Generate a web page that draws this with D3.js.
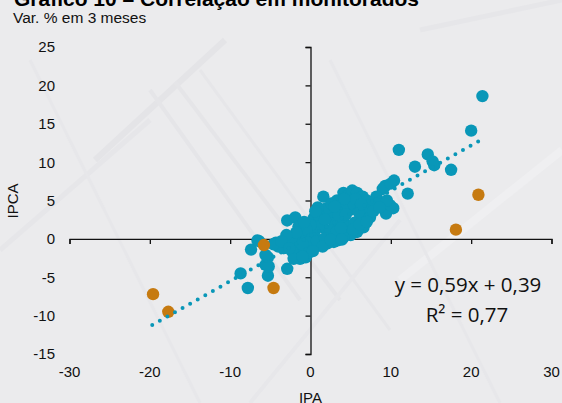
<!DOCTYPE html>
<html>
<head>
<meta charset="utf-8">
<script src="https://cdn.jsdelivr.net/npm/d3@7/dist/d3.min.js"></script>
<style>
  html, body { margin: 0; padding: 0; background: #ebebed; }
  svg { display: block; }
</style>
</head>
<body>
<svg id="chart" width="562" height="403"></svg>
<script>
// Variação % em 3 meses: IPA (x) vs IPCA (y), preços monitorados
const pontosAzuis = [
  [21.4,18.6],[20.0,14.1],[11.0,11.6],[14.6,11.0],[15.2,10.1],[15.4,9.6],[13.0,9.4],[17.5,9.0],
  [10.4,7.6],[12.1,5.9],[10.3,4.0],[9.4,3.3],[9.3,6.9],[9.0,6.5],[9.9,4.4],[8.2,5.5],[8.3,4.6],
  [9.5,5.0],[10.0,7.2],
  [1.6,5.5],[3.3,5.0],[4.1,6.0],[4.6,5.6],[5.2,6.3],[5.8,6.0],[6.5,5.5],[7.0,5.0],[7.4,4.4],
  [6.8,3.8],[6.2,2.8],[7.4,2.8],[6.6,1.5],[5.8,0.9],[5.0,0.5],[4.1,0.2],[3.4,-0.2],[2.9,-0.4],
  [2.1,-0.6],[1.2,-0.2],[0.5,-0.8],[0.4,2.7],[2.7,3.7],[5.0,3.8],[4.1,2.5],[1.6,1.5],[-0.9,0.6],
  [3.8,4.3],[4.5,4.6],[5.4,4.4],[5.6,5.2],[2.2,2.9],[3.0,2.1],[3.5,3.1],[1.0,1.6],[0.5,0.9],
  [2.5,1.1],[3.2,0.9],[4.8,1.6],[5.5,2.1],[6.0,3.5],[2.0,4.0],[1.0,3.1],[0.0,1.8],[-0.5,1.2],
  [0.2,0.1],[-0.3,-0.5],[-1.5,-0.8],[-2.0,0.3],[-2.5,-0.3],[-1.0,-1.5],[0.8,-0.3],[1.8,0.1],
  [3.8,1.4],[4.4,3.2],[7.8,3.6],[8.6,4.1],[6.3,4.5],[4.2,5.2],[2.6,4.6],[0.9,4.1],[-1.0,-0.7],
  [-0.6,-2.4],[-0.2,-1.8],[1.5,-1.0],[2.5,-0.1],[3.9,-0.1],[5.3,1.2],[6.1,1.9],[7.0,2.2],
  [-2.9,2.4],[-1.9,2.8],[-1.5,1.6],[-0.8,2.2],[0.6,3.6],[1.8,2.5],[3.0,4.2],[-3.4,-1.2],
  [-2.3,-1.6],[-1.8,0.8],[-3.0,0.5],[0.3,-1.6],[-1.3,-2.6],[-2.1,-2.6],
  [-8.7,-4.5],[-7.8,-6.4],[-7.4,-1.4],[-5.3,-4.8],[-2.9,-3.9],[-5.6,-3.4],[-5.3,-2.4],
  [-6.6,-0.2],[-6.4,-0.3],[-4.3,-0.5],[-5.6,-2.1],[-5.2,-3.6],[-3.3,-1.2],[-4.0,-1.0],
  [-4.6,-0.7],[-3.6,-0.3],[-2.6,-1.2],[-1.0,-2.3]
];

const pontosLaranja = [
  [20.9,5.75],[18.1,1.2],[-19.6,-7.2],[-17.7,-9.5],[-4.6,-6.4],[-5.8,-0.8]
];

// Reta de tendência (regressão linear) e seu intervalo em x
const tendencia = { a: 0.59, b: 0.39, r2: 0.77 };
const tendenciaX = [-19.7, 21.5];

const ticksX = [-30, -20, -10, 0, 10, 20, 30];
const ticksY = [-15, -10, -5, 0, 5, 10, 15, 20, 25];

const titulo = "Gráfico 10 – Correlação em monitorados";
const subtitulo = "Var. % em 3 meses";

const svg = d3.select("#chart");
const W = 562, H = 403;
const corAzul = "#0997b8", corLaranja = "#c67a10";
const fonte = "'Liberation Sans', Arial, sans-serif";

svg.append("rect").attr("width", W).attr("height", H).attr("fill", "#ebebed");

// Textura de fundo: faixas diagonais discretas
const textura = svg.append("g").attr("fill", "none").attr("stroke-linecap", "butt");
const faixas = [
  [95, 160, 225, 40, "#e4e4e7", 6],
  [0, 250, 150, 120, "#e6e6e9", 5],
  [150, 90, 300, 300, "#e5e5e8", 4],
  [175, 82, 340, 300, "#e5e5e8", 4],
  [200, 70, 390, 330, "#e6e6e9", 3],
  [30, 60, 200, 403, "#e7e7ea", 3],
  [250, 403, 400, 220, "#e7e7ea", 4],
  [400, 280, 562, 150, "#efeff1", 8],
  [330, 60, 500, 403, "#e7e7ea", 3],
  [420, 30, 562, 0, "#e6e6e9", 5]
];
faixas.forEach(f => {
  textura.append("line")
    .attr("x1", f[0]).attr("y1", f[1]).attr("x2", f[2]).attr("y2", f[3])
    .attr("stroke", f[4]).attr("stroke-width", f[5]);
});

const x = d3.scaleLinear().domain([-30, 30]).range([69.5, 551.5]);
const y = d3.scaleLinear().domain([-15, 25]).range([354, 47]);

// Títulos
svg.append("text").attr("x", 14).attr("y", 5.5)
  .attr("font-family", fonte).attr("font-size", 21).attr("font-weight", "bold")
  .attr("fill", "#000").text(titulo);
svg.append("text").attr("x", 13).attr("y", 22.5)
  .attr("font-family", fonte).attr("font-size", 15.5)
  .attr("fill", "#111").text(subtitulo);

// Eixo x cruzando em y = 0
const eixoX = svg.append("g").attr("transform", `translate(0,${y(0)})`)
  .call(d3.axisBottom(x).tickValues(ticksX).tickSize(5).tickFormat(""));
eixoX.select(".domain").attr("stroke", "#111").attr("stroke-width", 1.3);
eixoX.selectAll(".tick line").attr("stroke", "#111").attr("stroke-width", 1.3);

// Eixo y cruzando em x = 0
const eixoY = svg.append("g").attr("transform", `translate(${x(0)},0)`)
  .call(d3.axisLeft(y).tickValues(ticksY).tickSize(5).tickFormat(""));
eixoY.select(".domain").attr("stroke", "#111").attr("stroke-width", 1.3);
eixoY.selectAll(".tick line").attr("stroke", "#111").attr("stroke-width", 1.3);

// Rótulos dos ticks nas bordas do gráfico
svg.append("g").selectAll("text").data(ticksX).join("text")
  .attr("x", d => x(d)).attr("y", 377)
  .attr("text-anchor", "middle")
  .attr("font-family", fonte).attr("font-size", 15).attr("fill", "#111")
  .text(d => d);
svg.append("g").selectAll("text").data(ticksY).join("text")
  .attr("x", 55).attr("y", d => y(d)).attr("dy", "0.36em")
  .attr("text-anchor", "end")
  .attr("font-family", fonte).attr("font-size", 15).attr("fill", "#111")
  .text(d => d);

// Títulos dos eixos
svg.append("text").attr("transform", `translate(13,201) rotate(-90)`)
  .attr("text-anchor", "middle").attr("dy", "0.35em")
  .attr("font-family", fonte).attr("font-size", 15).attr("fill", "#111")
  .text("IPCA");
svg.append("text").attr("x", x(0)).attr("y", 403)
  .attr("text-anchor", "middle")
  .attr("font-family", fonte).attr("font-size", 15).attr("fill", "#111")
  .text("IPA");

// Pontos
svg.append("g").selectAll("circle").data(pontosAzuis).join("circle")
  .attr("cx", d => x(d[0])).attr("cy", d => y(d[1])).attr("r", 6.2)
  .attr("fill", corAzul);
svg.append("g").selectAll("circle").data(pontosLaranja).join("circle")
  .attr("cx", d => x(d[0])).attr("cy", d => y(d[1])).attr("r", 6.2)
  .attr("fill", corLaranja);

// Linha de tendência pontilhada
const linha = d3.line().x(d => x(d)).y(d => y(tendencia.a * d + tendencia.b));
svg.append("path").datum(tendenciaX).attr("d", linha)
  .attr("fill", "none").attr("stroke", corAzul).attr("stroke-width", 4)
  .attr("stroke-linecap", "round").attr("stroke-dasharray", "0 8.7");

// Equação
const fmt = v => d3.format(".2f")(v).replace(".", ",");
const fonteEq = "'Open Sans', 'Noto Sans', sans-serif";
svg.append("text").attr("x", 468).attr("y", 292).attr("text-anchor", "middle")
  .attr("font-family", fonteEq).attr("font-size", 20.5).attr("fill", "#111")
  .text(`y = ${fmt(tendencia.a)}x + ${fmt(tendencia.b)}`);
svg.append("text").attr("x", 467).attr("y", 322).attr("text-anchor", "middle")
  .attr("font-family", fonteEq).attr("font-size", 20.5).attr("fill", "#111")
  .text(`R² = ${fmt(tendencia.r2)}`);
</script>
</body>
</html>
